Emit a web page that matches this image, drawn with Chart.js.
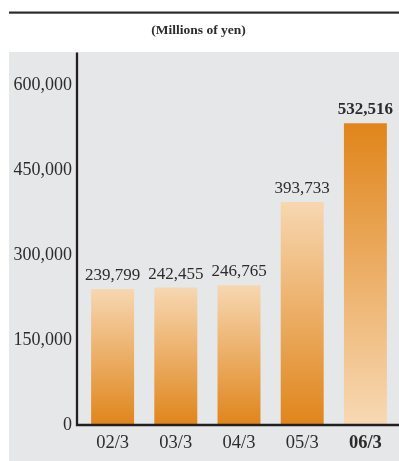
<!DOCTYPE html>
<html>
<head>
<meta charset="utf-8">
<script src="https://cdn.jsdelivr.net/npm/chart.js@4.4.1/dist/chart.umd.min.js"></script>
<style>
  html, body { margin: 0; padding: 0; background: #ffffff; }
  #wrap { position: relative; width: 399px; height: 461px; }
</style>
</head>
<body>
<div id="wrap"><canvas id="c" width="399" height="461"></canvas></div>
<script>
// Fiscal year-end periods (year/month)
const periods = ['02/3', '03/3', '04/3', '05/3', '06/3'];
// Values in millions of yen
const amounts = [239799, 242455, 246765, 393733, 532516];
// Y axis tick values
const yTicks = [0, 150000, 300000, 450000, 600000];
// Index of the highlighted (latest) period
const highlightIndex = 4;

const SERIF = '"Liberation Serif", "DejaVu Serif", serif';
const TEXT = '#2e2b2b';
const PANEL = '#e6e7e9';
const AXIS = '#231f20';
const LIGHT = '#f7d7b1';
const DARK = '#e0851b';

// Page frame: top rule and the grey panel behind the plot, plus axis lines
const framePlugin = {
  id: 'frame',
  beforeDraw(chart) {
    const ctx = chart.ctx;
    ctx.save();
    ctx.fillStyle = '#ffffff';
    ctx.fillRect(0, 0, chart.width, chart.height);
    ctx.fillStyle = '#2b2b2b';
    ctx.fillRect(9, 11.5, chart.width - 9, 2.2);
    ctx.fillStyle = PANEL;
    ctx.fillRect(9, 52, chart.width - 9, chart.height - 52);
    ctx.restore();
  },
  afterDatasetsDraw(chart) {
    const ctx = chart.ctx;
    const y0 = chart.scales.y.getPixelForValue(0);
    const axisX = chart.chartArea.left - 4;
    ctx.save();
    ctx.strokeStyle = AXIS;
    ctx.lineWidth = 2.3;
    ctx.beginPath();
    ctx.moveTo(axisX, 52.5);
    ctx.lineTo(axisX, y0);
    ctx.lineTo(chart.width, y0);
    ctx.stroke();
    ctx.restore();
  }
};

// Value labels above each bar
const valueLabels = {
  id: 'valueLabels',
  afterDatasetsDraw(chart) {
    const ctx = chart.ctx;
    const meta = chart.getDatasetMeta(0);
    ctx.save();
    ctx.fillStyle = TEXT;
    ctx.textAlign = 'center';
    ctx.textBaseline = 'alphabetic';
    meta.data.forEach((bar, i) => {
      ctx.font = (i === highlightIndex ? 'bold ' : '') + '17px ' + SERIF;
      ctx.fillText(amounts[i].toLocaleString('en-US'), bar.x, bar.y - 9);
    });
    ctx.restore();
  }
};

function barGradient(context) {
  const chart = context.chart;
  if (!chart.chartArea || context.dataIndex === undefined) return DARK;
  const ys = chart.scales.y;
  const top = ys.getPixelForValue(amounts[context.dataIndex]);
  const bottom = ys.getPixelForValue(0);
  const g = chart.ctx.createLinearGradient(0, top, 0, bottom);
  if (context.dataIndex === highlightIndex) {
    g.addColorStop(0, DARK);
    g.addColorStop(1, '#f8d9b4');
  } else {
    g.addColorStop(0, LIGHT);
    g.addColorStop(1, DARK);
  }
  return g;
}

new Chart(document.getElementById('c'), {
  type: 'bar',
  data: {
    labels: periods,
    datasets: [{
      data: amounts,
      backgroundColor: barGradient,
      borderWidth: 0,
      categoryPercentage: 1,
      barPercentage: 0.68
    }]
  },
  options: {
    responsive: false,
    animation: false,
    layout: { padding: { left: 0, right: 2, top: 0, bottom: 0 } },
    plugins: {
      legend: { display: false },
      tooltip: { enabled: false },
      title: {
        display: true,
        text: '(Millions of yen)',
        color: TEXT,
        font: { family: SERIF, size: 13.5, weight: 'bold', lineHeight: 1.2 },
        padding: { top: 22, bottom: 46.8 }
      }
    },
    scales: {
      x: {
        grid: { display: false, drawTicks: false },
        border: { display: false },
        ticks: {
          color: TEXT,
          padding: 7,
          font: (c) => ({
            family: SERIF,
            size: 18.5,
            weight: c.index === highlightIndex ? 'bold' : 'normal'
          })
        },
        afterFit(scale) { scale.height = 36; }
      },
      y: {
        min: 0,
        max: 600000,
        afterBuildTicks(scale) { scale.ticks = yTicks.map(v => ({ value: v })); },
        grid: { display: false, drawTicks: false },
        border: { display: false },
        ticks: {
          color: TEXT,
          padding: 9,
          font: { family: SERIF, size: 18 },
          callback: (v) => Number(v).toLocaleString('en-US')
        },
        afterFit(scale) { scale.width = 81; }
      }
    }
  },
  plugins: [framePlugin, valueLabels]
});
</script>
</body>
</html>
